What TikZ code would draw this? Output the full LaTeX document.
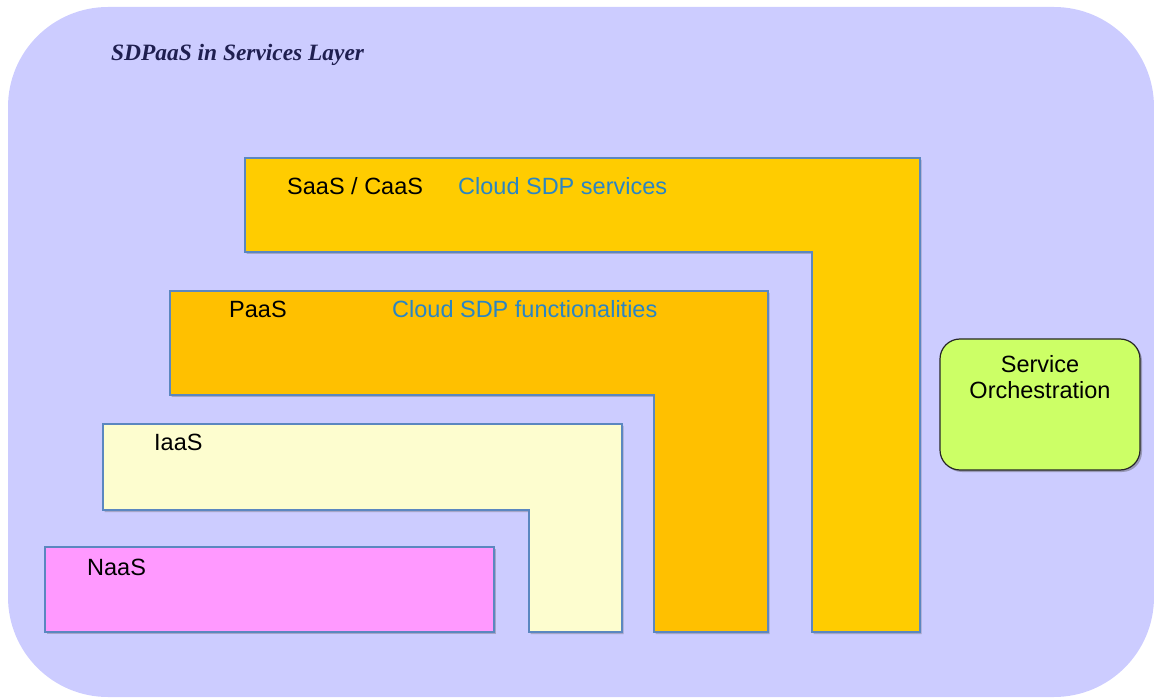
\documentclass[tikz,border=0pt]{standalone}
\usepackage{fontspec}
\setmainfont{Liberation Sans}
\newfontfamily\titlefont{Liberation Serif}
\usetikzlibrary{shadows}

\definecolor{layerbg}{HTML}{CCCCFF}
\definecolor{saasfill}{HTML}{FFCC00}
\definecolor{paasfill}{HTML}{FFC000}
\definecolor{iaasfill}{HTML}{FDFDCF}
\definecolor{naasfill}{HTML}{FF99FF}
\definecolor{orchfill}{HTML}{CCFF66}
\definecolor{edgeblue}{HTML}{5B87C0}
\definecolor{noteblue}{HTML}{2A85C4}
\definecolor{titlenavy}{HTML}{1F1F50}

\tikzset{
  block/.style={draw=edgeblue, line width=1.1pt, line join=miter,
    drop shadow={shadow xshift=1.5pt, shadow yshift=-2pt, opacity=0.3, fill=black!70}},
  tag/.style={anchor=base west, inner sep=0pt, font=\fontsize{23.5}{26}\selectfont},
  note/.style={tag, text=noteblue},
}

\begin{document}
\begin{tikzpicture}[x=1pt, y=-1pt]
\useasboundingbox (0,0) rectangle (1154,700);

% services layer background
\fill[layerbg, rounded corners=100pt] (8,7) rectangle (1154,697);
\node[anchor=base west, inner sep=0pt, text=titlenavy,
      font=\titlefont\bfseries\itshape\fontsize{23.4}{26}\selectfont] (title) at (111,61) {SDPaaS in Services Layer};

% stacked service layers
\draw[block, fill=saasfill] (245,158) -- (920,158) -- (920,632) -- (812,632) -- (812,252) -- (245,252) -- cycle;
\draw[block, fill=paasfill] (170,291) -- (768,291) -- (768,632) -- (654,632) -- (654,395) -- (170,395) -- cycle;
\draw[block, fill=iaasfill] (103,424) -- (622,424) -- (622,632) -- (529,632) -- (529,510) -- (103,510) -- cycle;
\draw[block, fill=naasfill] (45,547) -- (494,547) -- (494,632) -- (45,632) -- cycle;

% layer labels
\node[tag]  (saas)  at (287,195) {SaaS / CaaS};
\node[note] (saasn) at (458,195) {Cloud SDP services};
\node[tag]  (paas)  at (229,318) {PaaS};
\node[note] (paasn) at (392,318) {Cloud SDP functionalities};
\node[tag]  (iaas)  at (154,450) {IaaS};
\node[tag]  (naas)  at (87,575) {NaaS};

% orchestration box
\node[draw=black!85, line width=1.2pt, fill=orchfill, rounded corners=20pt,
      minimum width=200pt, minimum height=131pt, inner sep=0pt,
      drop shadow={shadow xshift=2pt, shadow yshift=-2pt, opacity=0.4, fill=black!70}]
      (orch) at (1040,404.5) {};
\node[anchor=north, align=center, inner sep=0pt, font=\fontsize{23.5}{26}\selectfont]
      (orchtext) at ([yshift=-16.5pt]orch.north) {Service\\Orchestration};
\end{tikzpicture}
\end{document}
